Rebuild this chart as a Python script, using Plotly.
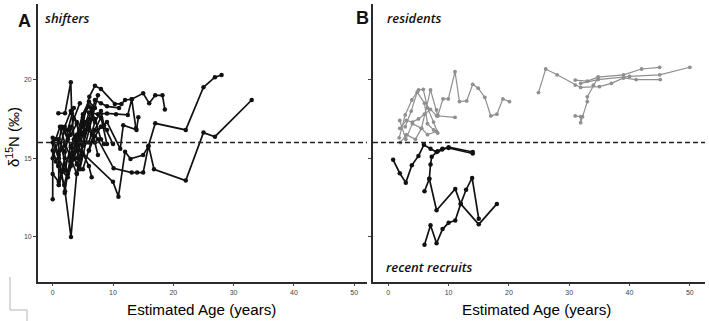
import plotly.graph_objects as go

# ---------------- data (age in years, d15N in permil) ----------------
SHIFTER_AGES = [
    [0, 0, 1.0, 2.0, 3.0, 4.0],
    [1.0, 2.04, 3.03, 3.98, 5.0, 6.0],
    [0.94, 2.04, 3.0, 3.15, 3.6, 5.0],
    [4.5, 6.07, 7.0, 8.0, 10.3, 11.4, 12.0, 13.1, 15.0, 16.0, 17.0, 18.2, 18.6],
    [0, 1.0, 2.0, 3.0, 4.0, 5.0, 6.0, 7.0],
    [0, 0.9, 1.9, 2.9, 3.9, 4.9],
    [0.5, 1.5, 2.5, 3.5, 4.5, 5.5, 6.5],
    [1.0, 2.0, 3.0, 4.0, 5.0, 6.5, 8.0, 9.0],
    [2.0, 3.0, 4.0, 5.0, 6.0, 6.46],
    [0, 1.0, 2.0, 3.0, 4.0, 5.0, 6.0, 7.0, 8.0, 8.5],
    [3.0, 4.0, 5.0, 6.0, 7.0, 8.0, 9.0, 11.0],
    [1.5, 2.5, 3.5, 4.5, 5.5, 6.5, 7.5],
    [4.0, 5.0, 6.0, 7.5, 9.0, 10.5, 12.45, 13.1, 13.8],
    [4.5, 10.0, 10.9, 12.0, 12.9, 15.0, 15.85, 17.0, 22.06, 25.0, 26.9, 28.0],
    [7.5, 10.1, 13.1, 14.0, 15.0, 15.9, 16.8, 22.06, 25.0, 26.9, 33.0],
    [0, 1.0, 2.0, 2.5, 3.5],
    [0.5, 1.2, 2.0, 3.0, 4.0, 5.0],
    [5.0, 6.0, 7.0, 8.0, 9.0],
    [6.0, 7.0, 8.0, 9.0, 11.2, 11.7, 13.9, 14.2],
    [1.0, 1.0, 1.5, 2.5, 3.5, 4.5],
    [2.0, 3.0, 4.0, 5.0, 6.0, 7.0, 7.5],
    [2.0, 2.5, 3.5, 4.5, 5.5],
    [6.0, 7.0, 8.0, 8.5, 10.0],
]
SHIFTER_VALS = [
    [12.4, 16.3, 15.2, 17.0, 18.0, 17.3],
    [15.0, 12.9, 10.0, 14.05, 16.0, 17.5],
    [17.86, 17.86, 19.83, 17.86, 16.0, 17.2],
    [16.5, 18.9, 19.6, 19.4, 18.45, 18.45, 18.7, 18.75, 19.13, 18.5, 19.0, 19.0, 18.1],
    [16.0, 15.0, 14.2, 15.8, 16.5, 17.8, 18.6, 18.2],
    [15.5, 14.5, 13.3, 14.8, 15.9, 17.0],
    [14.8, 15.6, 14.0, 16.2, 15.0, 16.8, 18.2],
    [13.3, 14.6, 15.3, 16.1, 17.4, 16.5, 17.0, 16.8],
    [15.8, 16.5, 17.2, 15.3, 14.5, 13.8],
    [15.0, 16.2, 15.4, 17.0, 16.0, 17.6, 18.3, 17.5, 16.2, 15.9],
    [14.5, 15.5, 16.5, 17.0, 18.7, 18.5, 18.3, 18.2],
    [14.2, 13.8, 15.0, 14.3, 16.0, 17.5, 19.0],
    [15.0, 16.6, 17.9, 17.8, 17.85, 17.8, 17.75, 18.75, 16.9],
    [15.5, 13.5, 12.56, 15.42, 14.96, 15.2, 15.74, 17.22, 16.8, 19.51, 20.15, 20.29],
    [16.2, 14.36, 14.09, 14.09, 14.09, 15.8, 14.3, 13.58, 16.63, 16.37, 18.7],
    [14.0, 13.5, 15.0, 16.8, 18.2],
    [16.2, 17.0, 16.0, 15.0, 14.0, 15.2],
    [14.3, 15.5, 16.8, 17.6, 15.9],
    [15.5, 16.4, 17.0, 17.3, 15.6, 17.1, 16.8, 17.6],
    [13.3, 16.0, 17.0, 16.2, 17.5, 18.5],
    [16.8, 15.7, 14.6, 15.8, 17.2, 16.0, 15.2],
    [12.8, 14.1, 15.3, 16.1, 17.3],
    [16.0, 17.3, 18.0, 17.1, 15.9],
]

RESIDENT_AGES = [
    [1.8, 2.8, 3.9, 5.0, 5.8, 6.5, 7.5, 8.2],
    [1.9, 2.9, 4.0, 5.5, 7.0, 8.0, 8.2],
    [8.2, 9.07, 9.95, 11.06, 11.8, 13.0, 14.0, 14.9, 16.0, 17.0, 18.0, 19.0, 20.1],
    [1.9, 3.0, 4.0, 5.0, 6.0, 7.0, 8.0, 11.06],
    [2.0, 3.0, 4.5, 5.5, 6.5, 8.0],
    [2.8, 3.8, 4.8, 6.0, 6.5, 7.5],
    [24.9, 26.1, 28.0, 31.0, 31.9, 35.0, 37.0, 39.0, 41.1, 45.1],
    [31.0, 33.0, 34.8, 39.0, 42.0, 45.0],
    [31.9, 34.8, 40.0, 45.0, 50.0],
    [31.0, 31.9, 31.9, 32.2, 33.0, 33.0, 34.0, 34.8],
]
RESIDENT_VALS = [
    [16.3, 17.75, 18.7, 19.34, 19.38, 18.2, 17.3, 16.6],
    [17.4, 16.2, 17.2, 16.9, 19.34, 18.07, 17.7],
    [17.7, 18.77, 18.77, 20.5, 18.6, 18.64, 19.7, 19.45, 18.87, 17.69, 17.8, 18.77, 18.6],
    [16.9, 17.4, 17.3, 17.5, 17.8, 18.1, 17.7, 17.6],
    [16.0, 16.5, 16.2, 16.9, 16.5, 16.7],
    [17.0, 18.0, 19.2, 18.5, 17.2, 16.8],
    [19.17, 20.67, 20.3, 19.65, 19.5, 19.55, 19.76, 20.1, 20.0, 20.0],
    [19.97, 19.9, 20.15, 20.3, 20.67, 20.78],
    [19.76, 20.0, 20.2, 20.3, 20.78],
    [17.69, 17.64, 17.26, 17.64, 18.6, 18.9, 19.64, 20.15],
]

RECRUIT_AGES = [
    [0.8, 1.9, 2.9, 3.9, 5.0, 5.9, 7.0, 8.0, 8.9, 10.0, 14.0],
    [6.0, 6.8, 7.0, 7.2, 8.2, 9.0, 10.0, 14.0],
    [6.8, 8.0, 11.1, 12.0, 15.0, 18.0],
    [6.0, 7.0, 8.0, 9.0, 10.0, 11.1, 12.0, 12.9, 13.9, 15.0],
]
RECRUIT_VALS = [
    [14.9, 14.05, 13.45, 14.55, 15.15, 15.85, 15.6, 15.4, 15.55, 15.7, 15.4],
    [12.9, 13.7, 14.6, 15.1, 15.45, 15.6, 15.65, 15.3],
    [13.7, 11.7, 13.05, 12.1, 10.8, 12.1],
    [9.5, 10.75, 9.6, 10.5, 10.9, 11.05, 12.1, 13.0, 13.75, 11.15],
]

THRESHOLD = 16.0
X_TICKS = [0, 10, 20, 30, 40, 50]
Y_TICKS = [10, 15, 20]

# ---------------- figure ----------------
fig = go.Figure()

for a, v in zip(SHIFTER_AGES, SHIFTER_VALS):
    fig.add_trace(go.Scatter(x=a, y=v, mode="lines+markers", xaxis="x", yaxis="y",
                             line=dict(color="#111111", width=1.7),
                             marker=dict(color="#111111", size=4.5), showlegend=False))

for a, v in zip(RESIDENT_AGES, RESIDENT_VALS):
    fig.add_trace(go.Scatter(x=a, y=v, mode="lines+markers", xaxis="x2", yaxis="y2",
                             line=dict(color="#8f8f8f", width=1.2),
                             marker=dict(color="#8f8f8f", size=3.8), showlegend=False))

for a, v in zip(RECRUIT_AGES, RECRUIT_VALS):
    fig.add_trace(go.Scatter(x=a, y=v, mode="lines+markers", xaxis="x2", yaxis="y2",
                             line=dict(color="#111111", width=1.7),
                             marker=dict(color="#111111", size=4.5), showlegend=False))

W, H = 709, 321
YR = [7.17, 24.8]
dom_y = [1 - 281.5 / H, 1 - 4 / H]

axis_common = dict(showgrid=False, zeroline=False, showline=True, linecolor="#2b2b2b",
                   linewidth=1.8, ticks="outside", ticklen=3, tickwidth=1,
                   tickcolor="#444444",
                   tickfont=dict(family="Liberation Sans", size=7, color="#444444"))

fig.update_layout(
    width=W, height=H, margin=dict(l=0, r=0, t=0, b=0),
    paper_bgcolor="white", plot_bgcolor="white",
    xaxis=dict(domain=[38 / W, 367 / W], range=[-2.44, 52.12], tickvals=X_TICKS,
               anchor="y", **axis_common),
    yaxis=dict(domain=dom_y, range=YR, tickvals=Y_TICKS, anchor="x", **axis_common),
    xaxis2=dict(domain=[373 / W, 705 / W], range=[-2.54, 52.52], tickvals=X_TICKS,
                anchor="y2", **axis_common),
    yaxis2=dict(domain=dom_y, range=YR, tickvals=Y_TICKS, anchor="x2",
                showticklabels=False, **axis_common),
)

# threshold dashed lines
for xr, yr in (("x domain", "y"), ("x2 domain", "y2")):
    fig.add_shape(type="line", xref=xr, yref=yr, x0=0, x1=1, y0=THRESHOLD, y1=THRESHOLD,
                  line=dict(color="#222222", width=1.6, dash="5px,3px"))

# faint grey corner marks (scan artefact)
for x0, y0, x1, y1 in ((10, 277, 10, 310), (10, 310, 27, 310), (27, 310, 27, 321)):
    fig.add_shape(type="line", xref="paper", yref="paper",
                  x0=x0 / W, x1=x1 / W, y0=1 - y0 / H, y1=1 - y1 / H,
                  line=dict(color="#cccccc", width=1.5))

def ann(text, x, y, size, **kw):
    fig.add_annotation(text=text, xref="paper", yref="paper", x=x / W, y=1 - y / H,
                       xanchor="center", yanchor="middle", showarrow=False,
                       font=dict(size=size, color=kw.pop("color", "#111111"),
                                 family=kw.pop("family", "Liberation Sans"),
                                 weight=kw.pop("weight", "normal"),
                                 style=kw.pop("style", "normal")), **kw)

ann("A", 24, 21, 18, weight="bold")
ann("B", 362, 18, 18, weight="bold")
ann("shifters", 67, 18, 13, family="Open Sans", weight=600, style="italic")
ann("residents", 414, 18, 13, family="Open Sans", weight=600, style="italic")
ann("recent recruits", 430, 267, 13, family="Open Sans", weight=600, style="italic")
ann("Estimated Age (years)", 201, 309, 15.2, color="#000000")
ann("Estimated Age (years)", 536, 309, 15.2, color="#000000")
ann("δ<sup>15</sup>N (‰)", 13, 137, 15, textangle=-90, color="#000000")

fig.write_html("out.html")
